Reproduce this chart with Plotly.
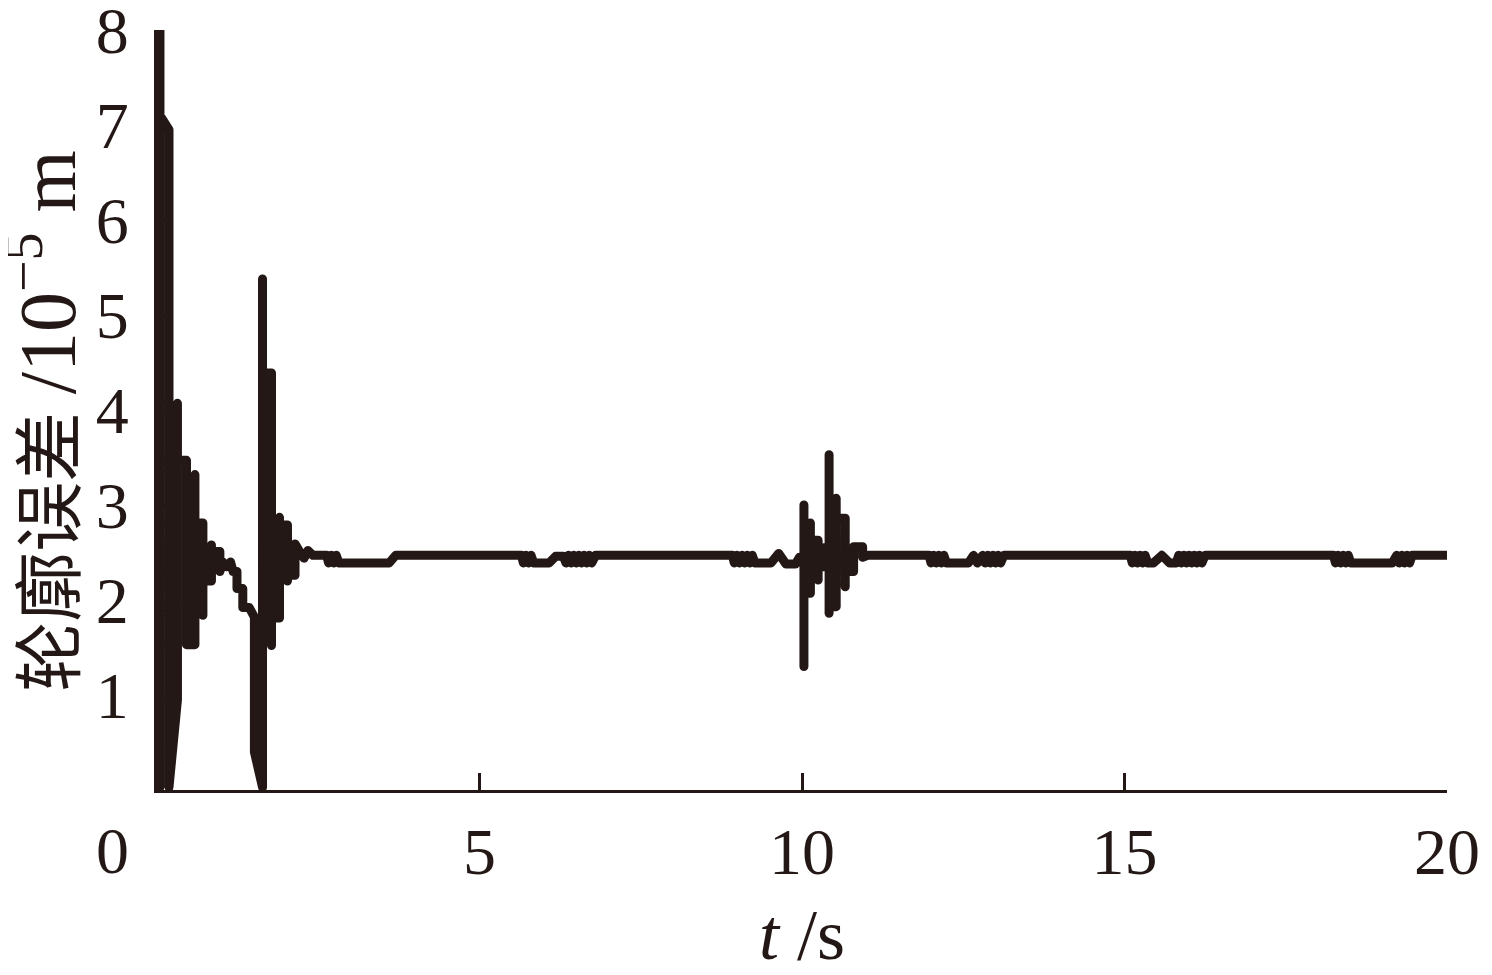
import plotly.graph_objects as go

B = 2.47
D = 2.39

# time (s) and contour error (1e-5 m)
t_start = [0.046, 0.046, 0.046, 0.186, 0.186, 0.317, 0.317, 0.317, 0.457, 0.457,
           0.588, 0.588, 0.588, 0.712, 0.712, 0.712, 0.844, 0.844, 0.844, 0.975,
           0.975, 1.02, 1.08, 1.14, 1.18, 1.24, 1.24, 1.33, 1.33, 1.43,
           1.51, 1.51, 1.636, 1.636, 1.636, 1.775, 1.775, 1.775, 1.899, 1.899,
           1.899, 2.023, 2.023, 2.023, 2.14, 2.14, 2.22, 2.28, 2.34, 2.42]
e_start = [0.03, 8.0, 7.1, 6.95, 0.03, 0.95, 4.07, 3.47, 3.47, 1.53,
           1.53, 3.32, 2.81, 2.81, 1.84, 2.2, 2.2, 2.58, 2.51, 2.51,
           2.3, 2.4, 2.35, 2.4, 2.3, 2.3, 2.12, 2.12, 1.92, 1.92,
           1.82, 0.4, 0.03, 5.38, 4.39, 4.39, 1.52, 1.81, 1.81, 2.87,
           2.79, 2.79, 2.2, 2.26, 2.26, 2.59, 2.5, 2.44, 2.52, 2.47]

t_mid = [2.63, 2.66, 2.70, 2.74, 2.78, 2.82, 3.60, 3.70,
         5.65, 5.68, 5.72, 5.76, 5.80, 5.84, 6.08, 6.18, 6.30, 6.34, 6.38, 6.42,
         6.46, 6.50, 6.54, 6.58, 6.62, 6.66, 6.70, 6.74, 6.80,
         8.92, 8.95, 8.99, 9.03, 9.07, 9.11, 9.15, 9.19, 9.23, 9.27,
         9.52, 9.64, 9.75, 9.90, 9.96]
e_mid = [B, D, B, D, B, D, D, B,
         B, D, B, D, B, D, D, 2.46, 2.46, D, B, D,
         B, D, B, D, B, D, B, D, B,
         B, D, B, D, B, D, B, D, B, D,
         D, 2.49, 2.38, 2.38, 2.45]

t_burst = [10.03, 10.03, 10.03, 10.03, 10.13, 10.13, 10.13, 10.25, 10.25, 10.25,
           10.34, 10.34, 10.42, 10.42, 10.42, 10.42, 10.53, 10.53, 10.53, 10.67,
           10.67, 10.67, 10.80, 10.80, 10.94, 10.94, 11.02]
e_burst = [2.45, 3.0, 1.3, 2.07, 2.07, 2.81, 2.63, 2.63, 2.21, 2.35,
           2.35, 2.55, 2.55, 3.53, 1.86, 1.93, 1.93, 3.07, 2.86, 2.86,
           2.14, 2.3, 2.3, 2.56, 2.56, 2.45, B]

t_end = [11.97, 12.00, 12.04, 12.08, 12.12, 12.16, 12.20, 12.24, 12.58, 12.66,
         12.72, 12.80, 12.84, 12.88, 12.92, 12.96, 13.00, 13.04, 13.08, 13.13,
         15.09, 15.12, 15.16, 15.20, 15.24, 15.28, 15.32, 15.36, 15.45, 15.58,
         15.70, 15.80, 15.84, 15.88, 15.92, 15.96, 16.00, 16.04, 16.08, 16.12,
         16.16, 16.20, 16.25,
         18.24, 18.27, 18.31, 18.35, 18.39, 18.43, 18.47, 18.51, 19.15, 19.22,
         19.26, 19.30, 19.34, 19.38, 19.42, 19.46, 20.0]
e_end = [B, D, B, D, B, D, B, D, D, B,
         D, B, D, B, D, B, D, B, D, B,
         B, D, B, D, B, D, B, D, D, B,
         D, D, B, D, B, D, B, D, B, D,
         B, D, B,
         B, D, B, D, B, D, B, D, D, B,
         D, B, D, B, D, B, B]

t = t_start + t_mid + t_burst + t_end
e = e_start + e_mid + e_burst + e_end

x_ticks = [5, 10, 15, 20]
y_ticks = [1, 2, 3, 4, 5, 6, 7, 8]

INK = "#231815"
FONT = "Liberation Serif, Times New Roman, Noto Sans CJK SC, serif"

fig = go.Figure()
fig.add_trace(go.Scatter(x=t, y=e, mode="lines",
                         line=dict(color=INK, width=9), hoverinfo="skip",
                         showlegend=False))

fig.update_layout(
    width=1484, height=967,
    margin=dict(l=149, r=45, t=22, b=185, autoexpand=False),
    paper_bgcolor="white", plot_bgcolor="white",
    font=dict(family=FONT, size=66, color=INK),
    xaxis=dict(range=[0, 20], tickvals=x_ticks, ticktext=[str(v) for v in x_ticks],
               ticks="inside", ticklen=17, tickwidth=3, tickcolor=INK,
               showline=True, linewidth=3, linecolor=INK, automargin=False,
               showgrid=False, zeroline=False, ticklabelstandoff=2,
               tickfont=dict(family=FONT, size=66, color=INK),
               title=dict(text="<i>t</i> /s", font=dict(family=FONT, size=72, color=INK),
                          standoff=32)),
    yaxis=dict(range=[0, 8], tickvals=y_ticks, ticktext=[str(v) for v in y_ticks],
               ticks="inside", ticklen=13, tickwidth=3, tickcolor=INK,
               showline=True, linewidth=3, linecolor=INK, automargin=False,
               showgrid=False, zeroline=False, ticklabelstandoff=12,
               ticklabeloverflow="allow",
               tickfont=dict(family=FONT, size=66, color=INK)),
    annotations=[
        dict(text="0", x=0, y=0, xref="x", yref="y", showarrow=False,
             xanchor="center", yanchor="top", xshift=-45, yshift=-22,
             font=dict(family=FONT, size=66, color=INK)),
        dict(text="轮廓误差 <span style='font-size:80px'>/10<sup>−5</sup> m</span>",
             x=-0.089, y=0.486, xref="paper", yref="paper", showarrow=False,
             textangle=-90, xanchor="center", yanchor="middle",
             font=dict(family=FONT, size=70, color=INK)),
    ],
)

rounded = ("document.querySelectorAll('.scatterlayer .js-line').forEach(function(p){"
           "p.style.strokeLinejoin='round';p.style.strokeLinecap='round';});")
fig.write_html("out.html", post_script=rounded)
